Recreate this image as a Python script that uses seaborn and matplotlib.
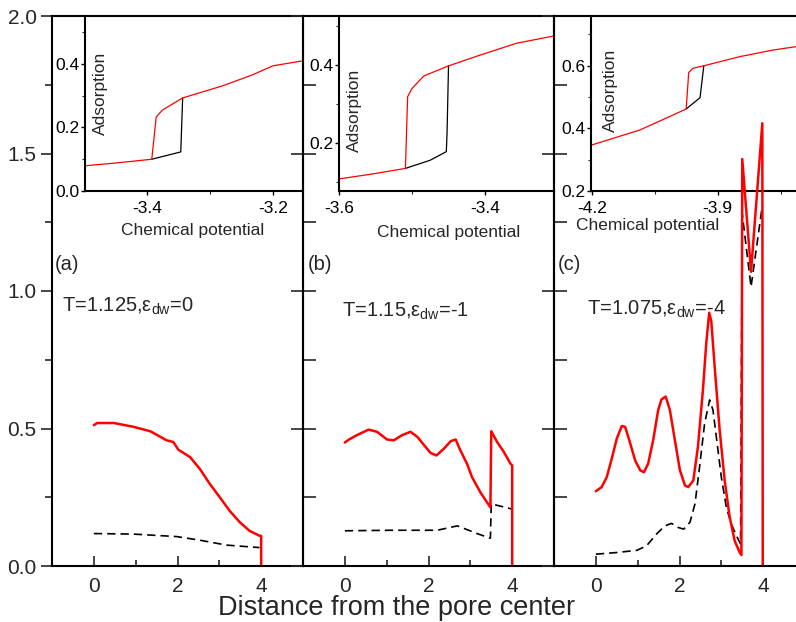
import matplotlib
matplotlib.use("Agg")
import matplotlib.pyplot as plt
import seaborn as sns
from matplotlib.ticker import FixedLocator

# ---------------- data: density profiles (main panels) ----------------
a_red_x = [0.0, 0.08, 0.48, 0.95, 1.35, 1.74, 1.90, 2.02, 2.30, 2.53, 2.77, 3.01, 3.25, 3.49, 3.72, 3.96, 4.0, 4.0]
a_red_y = [0.512, 0.52, 0.52, 0.506, 0.49, 0.457, 0.451, 0.423, 0.396, 0.354, 0.299, 0.25, 0.20, 0.159, 0.128, 0.11, 0.11, 0.0]
a_blk_x = [0.0, 0.95, 1.98, 2.53, 3.17, 3.96]
a_blk_y = [0.118, 0.116, 0.107, 0.094, 0.076, 0.067]

b_red_x = [0.0, 0.10, 0.29, 0.57, 0.77, 1.01, 1.17, 1.37, 1.57, 1.73, 1.93, 2.05, 2.19, 2.37, 2.53, 2.65,
           2.76, 2.92, 3.04, 3.24, 3.48, 3.50, 3.64, 3.80, 3.96, 4.0, 4.0]
b_red_y = [0.449, 0.46, 0.476, 0.496, 0.488, 0.46, 0.457, 0.476, 0.488, 0.47, 0.433, 0.411, 0.402, 0.427, 0.454, 0.46,
           0.421, 0.372, 0.323, 0.268, 0.213, 0.49, 0.451, 0.415, 0.372, 0.366, 0.0]
b_blk_x = [0.0, 1.09, 2.21, 2.69, 3.16, 3.48, 3.50, 4.0]
b_blk_y = [0.128, 0.130, 0.130, 0.146, 0.118, 0.101, 0.226, 0.207]

c_red_x = [0.0, 0.14, 0.26, 0.38, 0.50, 0.62, 0.70, 0.80, 0.94, 1.06, 1.15, 1.25, 1.37, 1.49, 1.57, 1.67,
           1.77, 1.89, 2.01, 2.13, 2.21, 2.33, 2.44, 2.56, 2.64, 2.71, 2.76, 2.84, 2.96, 3.08, 3.20, 3.32,
           3.44, 3.48, 3.50, 3.71, 3.98, 3.99]
c_red_y = [0.272, 0.287, 0.323, 0.39, 0.463, 0.509, 0.506, 0.457, 0.384, 0.348, 0.341, 0.372, 0.457, 0.567, 0.606, 0.616,
           0.567, 0.457, 0.348, 0.293, 0.287, 0.311, 0.433, 0.64, 0.811, 0.921, 0.89, 0.726, 0.494, 0.311, 0.177, 0.091,
           0.049, 0.04, 1.48, 1.07, 1.61, 0.0]
c_blk_x = [0.0, 0.5, 0.98, 1.21, 1.45, 1.65, 1.81, 1.97, 2.10, 2.25, 2.37, 2.48, 2.60, 2.72, 2.80, 2.88,
           3.00, 3.12, 3.24, 3.36, 3.46, 3.50, 3.71, 3.97]
c_blk_y = [0.043, 0.049, 0.057, 0.073, 0.116, 0.146, 0.155, 0.14, 0.134, 0.159, 0.226, 0.36, 0.518, 0.604, 0.567, 0.47,
           0.323, 0.213, 0.152, 0.11, 0.08, 1.28, 1.015, 1.30]

# ---------------- data: adsorption isotherms (insets) ----------------
ia_red_mu = [-3.50, -3.45, -3.392, -3.385, -3.375, -3.359, -3.343, -3.28, -3.233, -3.20, -3.152]
ia_red_ad = [0.079, 0.088, 0.100, 0.233, 0.255, 0.274, 0.293, 0.331, 0.365, 0.394, 0.41]
ia_blk_mu = [-3.392, -3.372, -3.346, -3.343]
ia_blk_ad = [0.100, 0.110, 0.123, 0.293]

ib_red_mu = [-3.60, -3.553, -3.509, -3.506, -3.50, -3.484, -3.45, -3.411, -3.357, -3.305]
ib_red_ad = [0.108, 0.121, 0.135, 0.319, 0.340, 0.372, 0.398, 0.423, 0.456, 0.475]
ib_blk_mu = [-3.509, -3.475, -3.453, -3.452, -3.45]
ib_blk_ad = [0.135, 0.156, 0.178, 0.225, 0.398]

ic_red_mu = [-4.20, -4.085, -4.006, -3.975, -3.969, -3.959, -3.933, -3.848, -3.769, -3.714]
ic_red_ad = [0.347, 0.395, 0.443, 0.462, 0.578, 0.592, 0.600, 0.629, 0.650, 0.661]
ic_blk_mu = [-3.975, -3.942, -3.933]
ic_blk_ad = [0.462, 0.498, 0.600]

panel_labels = ["(a)", "(b)", "(c)"]
annotations = [r"T=1.125,ε$_{\rm dw}$=0", r"T=1.15,ε$_{\rm dw}$=-1", r"T=1.075,ε$_{\rm dw}$=-4"]
xlabel = "Distance from the pore center"

# ---------------- style ----------------
sns.set_style("ticks")
plt.rcParams['font.family'] = ['Liberation Sans', 'DejaVu Sans']
plt.rcParams['axes.unicode_minus'] = False
plt.rcParams['mathtext.fontset'] = 'custom'
plt.rcParams['mathtext.rm'] = 'Liberation Sans'
plt.rcParams['mathtext.it'] = 'Liberation Sans:italic'
plt.rcParams['mathtext.sf'] = 'Liberation Sans'

W, H = 796, 622
fig = plt.figure(figsize=(W / 100, H / 100), dpi=100)


def box(l, t, r, b):
    return [l / W, 1 - b / H, (r - l) / W, (b - t) / H]


main_boxes = [(52, 16, 303, 566), (303, 16, 554, 566), (554, 16, 805, 566)]
inset_boxes = [(85, 16, 303, 191), (339, 16, 554, 191), (591, 16, 805, 191)]

mains = [(a_red_x, a_red_y, a_blk_x, a_blk_y), (b_red_x, b_red_y, b_blk_x, b_blk_y), (c_red_x, c_red_y, c_blk_x, c_blk_y)]
insets = [(ia_red_mu, ia_red_ad, ia_blk_mu, ia_blk_ad), (ib_red_mu, ib_red_ad, ib_blk_mu, ib_blk_ad),
          (ic_red_mu, ic_red_ad, ic_blk_mu, ic_blk_ad)]

inset_xlim = [(-3.498, -3.152), (-3.6, -3.3055), (-4.2017, -3.692)]
inset_ylim = [(0.0, 0.551), (0.077, 0.526), (0.2, 0.759)]
inset_xmaj = [[-3.4, -3.2], [-3.6, -3.4], [-4.2, -3.9]]
inset_xmin = [[-3.5, -3.3], [-3.5, -3.3], [-4.05, -3.75]]
inset_ymaj = [[0.0, 0.2, 0.4], [0.2, 0.4], [0.2, 0.4, 0.6]]
inset_ymin = [[0.1, 0.3, 0.5], [0.1, 0.3, 0.5], [0.3, 0.5, 0.7]]
inset_xlab_pos = [(0.495, -0.183), (0.512, -0.194), (0.266, -0.154)]
inset_ylab_pos = [(0.069, 0.56), (0.074, 0.463), (0.089, 0.577)]

ann_pos = [(-0.76, 0.924), (-0.07, 0.905), (-0.21, 0.913)]
lab_pos = [(-0.93, 1.095), (-0.88, 1.095), (-0.9, 1.095)]

for i in range(3):
    # ---- inset (drawn underneath) ----
    ia = fig.add_axes(box(*inset_boxes[i]), zorder=0)
    ia.patch.set_visible(False)
    rx, ry, bx, by = insets[i]
    sns.lineplot(x=bx, y=by, ax=ia, color="black", lw=0.9, sort=False, estimator=None, legend=False)
    sns.lineplot(x=rx, y=ry, ax=ia, color="red", lw=0.9, sort=False, estimator=None, legend=False)
    ia.set_xlim(*inset_xlim[i])
    ia.set_ylim(*inset_ylim[i])
    ia.xaxis.set_major_locator(FixedLocator(inset_xmaj[i]))
    ia.xaxis.set_minor_locator(FixedLocator(inset_xmin[i]))
    ia.yaxis.set_major_locator(FixedLocator(inset_ymaj[i]))
    ia.yaxis.set_minor_locator(FixedLocator(inset_ymin[i]))
    ia.set_xticklabels([f"{v:.1f}" for v in inset_xmaj[i]])
    ia.set_yticklabels([f"{v:.1f}" for v in inset_ymaj[i]])
    for s in ["top", "right"]:
        ia.spines[s].set_visible(False)
    for s in ["left", "bottom"]:
        ia.spines[s].set_linewidth(1.5)
        ia.spines[s].set_color("black")
    ia.tick_params(axis="both", which="major", direction="out", length=3, width=1.0, labelsize=12.5, colors="black")
    ia.tick_params(axis="both", which="minor", direction="out", length=2, width=0.8)
    ia.tick_params(axis="x", which="major", pad=4)
    ia.tick_params(axis="y", which="major", pad=1)
    ia.set_xlabel("Chemical potential", fontsize=12.5)
    ia.xaxis.set_label_coords(*inset_xlab_pos[i])
    ia.set_ylabel("")
    ia.text(inset_ylab_pos[i][0], inset_ylab_pos[i][1], "Adsorption", rotation=90, ha="center", va="center",
            fontsize=12.5, transform=ia.transAxes)

    # ---- main panel ----
    ax = fig.add_axes(box(*main_boxes[i]), zorder=1)
    ax.patch.set_visible(False)
    rx, ry, bx, by = mains[i]
    sns.lineplot(x=bx, y=by, ax=ax, color="black", lw=1.2, linestyle=(0, (5, 3)), sort=False, estimator=None,
                 legend=False)
    sns.lineplot(x=rx, y=ry, ax=ax, color="red", lw=1.8, sort=False, estimator=None, legend=False)
    ax.set_xlim(-1, 5)
    ax.set_ylim(0, 2.0)
    ax.xaxis.set_major_locator(FixedLocator([0, 2, 4]))
    ax.xaxis.set_minor_locator(FixedLocator([-1, 1, 3, 5]))
    ax.yaxis.set_major_locator(FixedLocator([0.0, 0.5, 1.0, 1.5, 2.0]))
    ax.yaxis.set_minor_locator(FixedLocator([0.25, 0.75, 1.25, 1.75]))
    ax.set_xticklabels(["0", "2", "4"])
    for s in ax.spines.values():
        s.set_linewidth(1.5)
        s.set_color("black")
    ax.tick_params(axis="x", which="major", direction="in", length=7, width=1.2, labelsize=15, pad=8)
    ax.tick_params(axis="x", which="minor", direction="in", length=4, width=1.2)
    if i == 0:
        ax.set_yticklabels(["0.0", "0.5", "1.0", "1.5", "2.0"])
        ax.tick_params(axis="y", which="major", direction="out", length=8, width=1.2, labelsize=15, pad=3)
        ax.tick_params(axis="y", which="minor", direction="out", length=5, width=1.2)
    else:
        ax.set_yticklabels([])
        ax.tick_params(axis="y", which="major", direction="inout", length=18, width=1.2, labelleft=False)
        ax.tick_params(axis="y", which="minor", direction="in", length=9, width=1.2)
    ax.set_xlabel("")
    ax.set_ylabel("")
    ax.text(lab_pos[i][0], lab_pos[i][1], panel_labels[i], fontsize=14.5, ha="left", va="center")
    ax.text(ann_pos[i][0], ann_pos[i][1], annotations[i], fontsize=14.5, ha="left", va="baseline")

fig.text(397 / W, 1 - 615 / H, xlabel, fontsize=19.5, ha="center", va="baseline")

fig.savefig("out.png", dpi=100)
